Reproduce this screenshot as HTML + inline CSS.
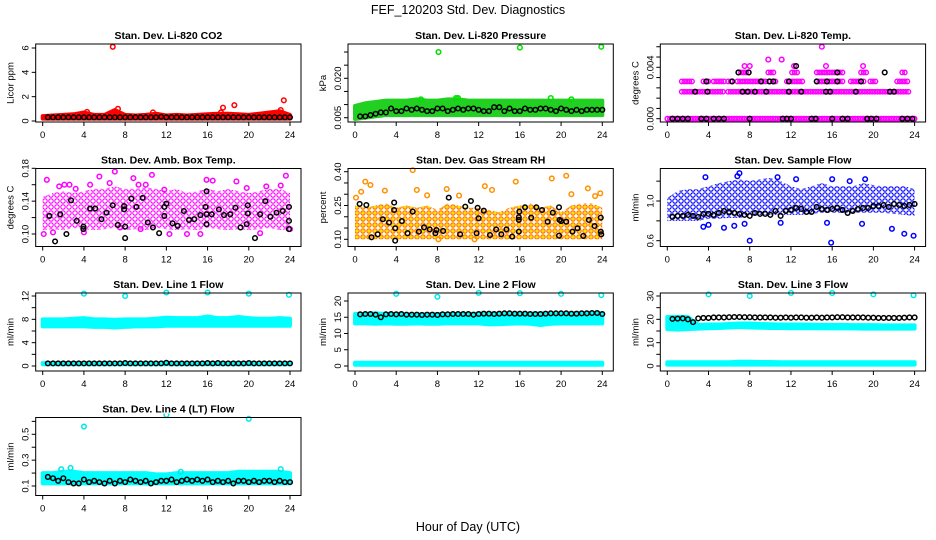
<!DOCTYPE html>
<html><head><meta charset="utf-8">
<style>
html,body{margin:0;padding:0;background:#fff;}
svg{display:block;font-family:"Liberation Sans",sans-serif;}
</style></head>
<body>
<svg id="chart" width="936" height="540" viewBox="0 0 936 540" xmlns="http://www.w3.org/2000/svg">
<defs>
<pattern id="pMag" width="6" height="6" patternUnits="userSpaceOnUse"><circle cx="3" cy="3" r="2.2" fill="none" stroke="#ff00ff" stroke-width="1.1"/></pattern>
<pattern id="pOrg" width="6" height="6" patternUnits="userSpaceOnUse"><circle cx="3" cy="3" r="2.2" fill="#ffe000" stroke="#ff7000" stroke-width="1.1"/></pattern>
<pattern id="pBlue" width="6" height="6" patternUnits="userSpaceOnUse"><circle cx="3" cy="3" r="2.2" fill="none" stroke="#0000ff" stroke-width="1.1"/></pattern>
</defs>
<text x="468" y="14" font-size="12.5" text-anchor="middle">FEF_120203  Std. Dev. Diagnostics</text>
<text x="468" y="531" font-size="12.5" text-anchor="middle">Hour of Day (UTC)</text>
</svg>
<script>
const hours=[0,1,2,3,4,5,6,7,8,9,10,11,12,13,14,15,16,17,18,19,20,21,22,23,24];
const blackHours=[0.5,1,1.5,2,2.5,3,3.5,4,4.5,5,5.5,6,6.5,7,7.5,8,8.5,9,9.5,10,10.5,11,11.5,12,12.5,13,13.5,14,14.5,15,15.5,16,16.5,17,17.5,18,18.5,19,19.5,20,20.5,21,21.5,22,22.5,23,23.5,24];
const xTicks=[0,4,8,12,16,20,24];

// P1 CO2
const co2Lo=[0.2,0.2,0.2,0.2,0.2,0.2,0.2,0.2,0.2,0.2,0.2,0.2,0.2,0.2,0.2,0.2,0.2,0.2,0.2,0.2,0.2,0.2,0.2,0.2,0.2];
const co2Hi=[0.4,0.45,0.5,0.55,0.7,0.5,0.5,0.9,0.5,0.45,0.5,0.6,0.45,0.5,0.45,0.5,0.55,0.6,0.6,0.55,0.5,0.6,0.7,0.8,0.5];
const co2OutX=[6.8,7.3,4.3,10.7,17.5,18.6,23.4,23.1,17.3];
const co2OutY=[6.1,1.0,0.75,0.7,1.1,1.3,1.7,0.9,0.7];
const co2Black=[0.3,0.3,0.3,0.3,0.3,0.3,0.3,0.3,0.3,0.3,0.3,0.3,0.3,0.3,0.3,0.3,0.3,0.3,0.3,0.3,0.3,0.3,0.35,0.3,0.3,0.3,0.3,0.3,0.3,0.3,0.3,0.3,0.3,0.3,0.3,0.3,0.3,0.3,0.3,0.3,0.3,0.3,0.3,0.3,0.3,0.3,0.3,0.3];

// P2 Pressure
const presLo=[0.0045,0.005,0.0055,0.006,0.006,0.006,0.006,0.006,0.006,0.006,0.006,0.006,0.006,0.006,0.006,0.006,0.006,0.006,0.006,0.006,0.006,0.006,0.006,0.006,0.006];
const presHi=[0.0095,0.0105,0.011,0.0115,0.0115,0.0115,0.012,0.0115,0.0115,0.012,0.012,0.0115,0.0115,0.0115,0.0115,0.0115,0.0115,0.0115,0.0115,0.0115,0.0115,0.0115,0.0115,0.0115,0.0115];
const presOutX=[8.1,16,23.9,19,9.8,6.4,21,10];
const presOutY=[0.030,0.0317,0.032,0.0125,0.0125,0.012,0.012,0.0125];
const presBlack=[0.0055,0.0055,0.006,0.0065,0.007,0.007,0.0085,0.0075,0.0075,0.0085,0.008,0.0085,0.008,0.0075,0.0075,0.0085,0.0085,0.0075,0.008,0.0085,0.008,0.0085,0.0085,0.008,0.0075,0.0075,0.009,0.009,0.0075,0.0085,0.0075,0.0075,0.0085,0.008,0.008,0.0085,0.0085,0.008,0.0075,0.0085,0.008,0.0075,0.008,0.0075,0.008,0.008,0.008,0.008];

// P3 Li-820 temp (magenta level segments)
const tempSegStart=[0,1.4,5.9,1.4,3.5,4.5,5.9,6.8,10,11.6,14.5,17.8,19.7,22.3,6.9,9.8,12.1,14.5,18.8,22.8];
const tempSegEnd=[24,5.6,23.5,2.4,4.2,5.6,6.3,9.7,10.6,13.2,17.1,19.1,20.4,23.3,8,10.5,12.6,17.1,19.3,23.1];
const tempSegLevel=[0,0.0021,0.0021,0.0029,0.0029,0.0029,0.0029,0.0029,0.0029,0.0029,0.0029,0.0029,0.0029,0.0029,0.0036,0.0036,0.0036,0.0036,0.0036,0.0036];
const tempOutX=[9.8,11.1,15,12.3,15.4,19,7.5,8];
const tempOutY=[0.0046,0.0046,0.0056,0.0041,0.0041,0.0041,0.0041,0.0041];
const tempBlackX=[0.5,1,1.5,2,3.3,3.8,4.5,5,5.5,8,11.2,11.6,12,14,14.4,16,17,17.5,19.4,19.8,20.3,22.8,23.3,23.8,2.7,3.9,7.3,7.8,8.5,9.6,11.8,13,15.4,15.8,18.3,3.8,6.3,9.1,9.9,10.3,11.8,14.5,15.5,16.5,18.8,6.9,7.9,16.5,21.1,12.5,21.6,22];
const tempBlackY=[0,0,0,0,0,0,0,0,0,0,0,0,0,0,0,0,0,0,0,0,0,0,0,0,0.0021,0.0021,0.0021,0.0021,0.0021,0.0021,0.0021,0.0021,0.0021,0.0021,0.0021,0.0029,0.0029,0.0029,0.0029,0.0029,0.0029,0.0029,0.0029,0.0029,0.0029,0.0036,0.0036,0.0036,0.0036,0.0041,0.0021,0.0021];

// P4 Amb box temp
const ambLo=[0.105,0.106,0.105,0.107,0.106,0.105,0.106,0.107,0.105,0.106,0.105,0.107,0.106,0.105,0.106,0.105,0.107,0.106,0.105,0.106,0.105,0.106,0.107,0.105,0.106];
const ambHi=[0.145,0.15,0.152,0.15,0.152,0.155,0.155,0.158,0.155,0.155,0.157,0.155,0.152,0.155,0.15,0.152,0.155,0.152,0.155,0.152,0.15,0.152,0.155,0.155,0.15];
const ambOutX=[0.4,1.6,2.1,2.6,3.2,4.6,5.5,6.5,7.0,8.8,9.3,10.0,10.6,11.8,15.9,16.5,18.8,19.8,21.7,23.1,23.6,0.1,1.0,4.0,7.5,9.5,12.3,14.0,15.3,21.1,24];
const ambOutY=[0.166,0.158,0.16,0.16,0.155,0.16,0.17,0.162,0.176,0.168,0.16,0.16,0.172,0.154,0.166,0.165,0.164,0.156,0.158,0.159,0.171,0.1,0.102,0.102,0.108,0.106,0.1,0.1,0.1,0.101,0.106];
const ambBlackX=[0.65,1.2,1.7,2.3,2.75,3.3,3.95,3.95,4.6,5.1,5.7,6.2,6.8,7.3,7.9,7.9,8.0,8.0,8.6,9.1,9.7,10.2,10.7,11.3,11.8,12,11.8,12.6,13.1,13.7,14.2,14.7,15.3,15.8,15.9,15.9,15.9,16.4,17.1,17.6,18.2,18.7,19.2,19.8,19.9,19.9,20.6,21.1,22.1,22.7,23.3,23.9,23.9,23.9,21.6];
const ambBlackY=[0.122,0.091,0.124,0.1,0.141,0.116,0.109,0.106,0.131,0.131,0.118,0.126,0.135,0.111,0.134,0.13,0.109,0.095,0.143,0.133,0.144,0.114,0.108,0.101,0.133,0.137,0.122,0.113,0.11,0.128,0.117,0.118,0.123,0.133,0.152,0.112,0.124,0.124,0.13,0.123,0.124,0.132,0.108,0.112,0.125,0.135,0.095,0.124,0.121,0.126,0.128,0.133,0.116,0.106,0.14];

// P5 Gas stream RH
const rhLo=[0.1,0.1,0.1,0.1,0.1,0.1,0.1,0.1,0.1,0.1,0.1,0.1,0.1,0.1,0.1,0.1,0.1,0.1,0.1,0.1,0.1,0.1,0.1,0.1,0.1];
const rhHi=[0.25,0.24,0.25,0.26,0.24,0.25,0.24,0.25,0.23,0.26,0.25,0.24,0.24,0.23,0.22,0.24,0.25,0.26,0.24,0.25,0.22,0.25,0.26,0.26,0.24];
const rhOutX=[0.1,0.6,1.0,1.5,2.9,5.6,6.0,7.0,8.9,10.1,12.6,13.3,15.6,19.1,20.5,21.0,22.6,23.3,23.8,8.1,11.6];
const rhOutY=[0.285,0.311,0.356,0.341,0.316,0.407,0.319,0.295,0.323,0.294,0.336,0.319,0.356,0.37,0.382,0.3,0.326,0.292,0.304,0.1,0.1];
const rhBlackX=[0.45,1.1,1.6,2.2,2.7,3.3,3.8,3.8,3.9,3.9,4.55,5.1,5.6,6.2,6.7,7.25,7.8,7.9,8.55,9.1,10.2,10.7,11.25,11.8,11.9,12.0,12.5,13.1,13.7,14.2,14.7,15.25,15.9,15.9,15.9,15.95,16.5,17.1,17.6,18.15,18.7,19.2,19.8,19.8,19.85,20,20.5,21.1,21.6,22.15,22.7,23.25,23.85,23.85,23.9];
const rhBlackY=[0.257,0.252,0.109,0.122,0.189,0.174,0.263,0.23,0.094,0.149,0.181,0.127,0.223,0.134,0.153,0.144,0.127,0.141,0.137,0.285,0.122,0.245,0.27,0.127,0.24,0.193,0.227,0.119,0.144,0.122,0.144,0.112,0.134,0.198,0.186,0.223,0.242,0.196,0.242,0.23,0.178,0.218,0.116,0.242,0.186,0.181,0.178,0.134,0.149,0.115,0.186,0.159,0.196,0.134,0.122];

// P6 Sample flow
const sfLo=[0.8,0.8,0.8,0.8,0.82,0.82,0.83,0.83,0.85,0.86,0.86,0.86,0.86,0.86,0.87,0.88,0.88,0.88,0.88,0.88,0.88,0.88,0.87,0.86,0.85];
const sfHi=[1.03,1.1,1.12,1.12,1.15,1.18,1.2,1.22,1.2,1.22,1.23,1.2,1.15,1.12,1.15,1.18,1.15,1.15,1.15,1.18,1.16,1.15,1.15,1.15,1.12];
const sfOutX=[3.5,4,5.5,6.5,7.5,8,11,15.5,15.9,18.9,21.8,23,23.9,7,6.8,10.7,12.5,17.7,19.2,16,3.7];
const sfOutY=[0.74,0.76,0.73,0.75,0.77,0.6,0.78,0.78,0.58,0.77,0.72,0.67,0.65,1.28,1.25,1.24,1.22,1.2,1.22,1.22,1.24];
const sfBlack=[0.84,0.85,0.85,0.86,0.85,0.84,0.87,0.87,0.86,0.88,0.9,0.89,0.88,0.87,0.86,0.85,0.88,0.87,0.87,0.86,0.9,0.85,0.9,0.91,0.93,0.92,0.89,0.89,0.94,0.92,0.91,0.92,0.93,0.91,0.88,0.9,0.92,0.93,0.93,0.95,0.95,0.96,0.94,0.97,0.96,0.95,0.96,0.97];

// P7 Line 1
const l1Lo=[6.8,6.8,6.8,6.8,6.8,6.7,6.7,6.6,6.7,6.8,6.8,6.8,6.9,6.9,6.9,6.9,6.9,6.9,6.9,6.9,6.9,6.9,6.9,6.9,6.9];
const l1Hi=[8.0,8.0,8.0,8.1,8.2,8.0,8.0,7.9,8.0,8.0,8.0,8.1,8.3,8.2,8.2,8.2,8.5,8.2,8.2,8.4,8.2,8.1,8.1,8.2,8.1];
const l1ZeroLo=[0.3,0.3,0.3,0.3,0.3,0.3,0.3,0.3,0.3,0.3,0.3,0.3,0.3,0.3,0.3,0.3,0.3,0.3,0.3,0.3,0.3,0.3,0.3,0.3,0.3];
const l1ZeroHi=[0.5,0.5,0.5,0.5,0.5,0.5,0.5,0.5,0.5,0.5,0.5,0.5,0.5,0.5,0.5,0.5,0.5,0.5,0.5,0.5,0.5,0.5,0.5,0.5,0.5];
const l1OutX=[4,8,12,16,20,23.9];
const l1OutY=[12.4,12.0,12.6,12.6,12.4,12.2];
const l1Black=[0.45,0.45,0.45,0.45,0.45,0.45,0.45,0.45,0.45,0.45,0.45,0.45,0.45,0.45,0.45,0.5,0.45,0.45,0.45,0.45,0.45,0.45,0.45,0.55,0.45,0.45,0.45,0.45,0.45,0.45,0.45,0.5,0.45,0.5,0.45,0.45,0.45,0.45,0.45,0.5,0.45,0.45,0.45,0.45,0.45,0.45,0.45,0.45];

// P8 Line 2
const l2Lo=[13.1,13.1,13.0,13.1,13.0,13.0,13.1,13.0,13.0,13.1,13.1,13.1,13.1,12.8,12.9,13.0,13.1,13.0,12.6,13.0,13.1,13.1,13.1,13.1,13.1];
const l2Hi=[16.0,16.0,16.2,16.0,16.0,15.9,15.9,15.9,16.0,16.0,16.0,16.0,16.1,16.1,16.1,16.1,16.1,16.1,16.2,16.2,16.2,16.2,16.3,16.3,16.2];
const l2ZeroLo=[0.4,0.4,0.4,0.4,0.4,0.4,0.4,0.4,0.4,0.4,0.4,0.4,0.4,0.4,0.4,0.4,0.4,0.4,0.4,0.4,0.4,0.4,0.4,0.4,0.4];
const l2ZeroHi=[1.0,1.0,1.0,1.0,1.0,1.0,1.0,1.0,1.0,1.0,1.0,1.0,1.0,1.0,1.0,1.0,1.0,1.0,1.0,1.0,1.0,1.0,1.0,1.0,1.0];
const l2OutX=[4,8,12,16,20,23.9];
const l2OutY=[22.2,21.3,22.5,22.4,22.2,21.8];
const l2Black=[15.9,16.0,16.0,15.8,15.0,15.9,16.0,15.9,16.0,15.8,15.8,15.8,15.7,15.8,15.8,15.7,15.9,15.9,16.0,16.0,16.0,16.0,15.8,16.0,16.1,16.1,16.0,16.1,16.2,16.2,16.1,16.1,16.1,16.0,16.0,16.0,16.1,16.2,16.2,16.2,16.2,16.1,16.1,16.2,16.2,16.3,16.3,16.0];

// P9 Line 3
const l3Lo=[15.8,15.6,15.8,16.0,16.2,16.3,16.5,16.7,16.5,16.4,16.3,16.3,16.2,16.2,16.2,16.2,16.1,16.1,16.1,16.0,16.0,16.0,16.0,16.0,16.0];
const l3Hi=[21.0,21.0,21.0,17.6,17.8,17.8,18.0,18.2,18.2,18.0,17.9,17.8,17.8,17.8,17.7,17.6,17.6,17.6,17.5,17.5,17.5,17.4,17.4,17.4,17.4];
const l3ZeroLo=[0.6,0.6,0.6,0.6,0.6,0.6,0.6,0.6,0.6,0.6,0.6,0.6,0.6,0.6,0.6,0.6,0.6,0.6,0.6,0.6,0.6,0.6,0.6,0.6,0.6];
const l3ZeroHi=[1.6,1.6,1.6,1.6,1.6,1.6,1.6,1.8,1.8,1.7,1.7,1.6,1.6,1.6,1.6,1.6,1.6,1.6,1.6,1.6,1.6,1.6,1.6,1.6,1.6];
const l3OutX=[4,8,12,16,20,23.9];
const l3OutY=[30.7,30.0,31.3,31.3,30.7,30.3];
const l3Black=[20.2,20.3,20.4,20.0,18.8,20.4,20.6,20.6,20.8,20.8,20.8,20.9,21.0,21.0,20.9,20.9,20.8,20.8,20.8,20.8,20.7,20.7,20.8,20.7,20.8,20.8,20.7,20.7,20.8,20.7,20.8,20.8,20.9,20.9,20.8,20.8,20.8,20.8,20.7,20.7,20.6,20.6,20.6,20.6,20.6,20.7,20.8,20.8];

// P10 Line 4
const l4Lo=[0.12,0.12,0.12,0.12,0.12,0.12,0.12,0.12,0.12,0.12,0.12,0.12,0.12,0.12,0.12,0.12,0.12,0.12,0.12,0.12,0.12,0.12,0.12,0.12,0.12];
const l4Hi=[0.2,0.2,0.21,0.21,0.2,0.2,0.2,0.2,0.2,0.2,0.2,0.19,0.19,0.2,0.2,0.2,0.2,0.2,0.2,0.21,0.21,0.21,0.21,0.21,0.2];
const l4OutX=[4,12,20,1.8,2.7,13.4,23.1];
const l4OutY=[0.56,0.65,0.62,0.23,0.24,0.21,0.23];
const l4Black=[0.17,0.16,0.14,0.16,0.13,0.12,0.12,0.15,0.13,0.14,0.13,0.12,0.14,0.12,0.14,0.13,0.15,0.14,0.13,0.14,0.12,0.13,0.14,0.14,0.15,0.13,0.14,0.15,0.14,0.15,0.14,0.15,0.13,0.14,0.13,0.14,0.12,0.14,0.14,0.13,0.14,0.13,0.14,0.14,0.13,0.14,0.13,0.13];

const NS='http://www.w3.org/2000/svg';
const svg=document.getElementById('chart');
function mk(tag,attrs,parent){const e=document.createElementNS(NS,tag);for(const k in attrs)e.setAttribute(k,attrs[k]);(parent||svg).appendChild(e);return e;}

function panel(cfg){
  const x0=42.7+312.3*cfg.col, xs=(290-42.7)/24;
  const X=h=>x0+h*xs;
  const Y=v=>cfg.py1+(v-cfg.v1)*(cfg.py2-cfg.py1)/(cfg.v2-cfg.v1);
  const top=44+124.5*cfg.row, bot=122+124.5*cfg.row;
  const left=x0-7, right=X(24)+11;
  const g=mk('g',{});
  
  
  const clipId='c'+cfg.name;
  const cp=mk('clipPath',{id:clipId},g);mk('rect',{x:left,y:top-4,width:right-left,height:bot-top+4},cp);
  const plot=mk('g',{'clip-path':'url(#'+clipId+')'},g);
  (cfg.bands||[]).forEach(b=>{
    let pts=hours.map((h,i)=>X(h)+','+Y(b.hi[i]));
    pts=pts.concat(hours.map((h,i)=>X(h)+','+Y(b.lo[i])).reverse());
    const p=mk('polygon',{points:pts.join(' '),fill:b.fill,stroke:b.stroke,'stroke-width':b.sw||4,'stroke-linejoin':'round'},plot);
    
    
  });
  if(cfg.segs){cfg.segs.start.forEach((s,i)=>{
    for(let h=s;h<=cfg.segs.end[i]+1e-9;h+=0.25){
      const c=mk('circle',{cx:X(h),cy:Y(cfg.segs.level[i]),r:2.2,fill:'none',stroke:cfg.segs.color,'stroke-width':1.4},plot);
      
      
    }});}
  (cfg.points||[]).forEach(s=>{
    s.x.forEach((h,i)=>{
      const c=mk('circle',{cx:X(h),cy:Y(s.y[i]),r:2.3,fill:'none',stroke:s.color,'stroke-width':1.5},plot);
      
      
    });
  });
  const box=mk('rect',{x:left,y:top,width:right-left,height:bot-top,fill:'none',stroke:'#000','stroke-width':1},g);
  
  
  xTicks.forEach(t=>{
    mk('line',{x1:X(t),x2:X(t),y1:bot,y2:bot+4,stroke:'#000'},g);
    const tx=mk('text',{x:X(t),y:bot+16,'font-size':9.5,'text-anchor':'middle'},g);
    tx.textContent=t;
    
    
  });
  cfg.yTicks.forEach((t,i)=>{
    const yy=Y(t);
    mk('line',{x1:left,x2:left-4,y1:yy,y2:yy,stroke:'#000'},g);
    if(cfg.yLabels[i]!==''){
      const tx=mk('text',{x:left-7,y:yy,'font-size':9.5,'text-anchor':'middle',transform:'rotate(-90 '+(left-7)+' '+yy+')'},g);
      tx.textContent=cfg.yLabels[i];
      
      
    }
  });
  const cy=(top+bot)/2;
  const yt=mk('text',{x:left-22,y:cy,'font-size':9.5,'text-anchor':'middle',transform:'rotate(-90 '+(left-22)+' '+cy+')'},g);
  yt.textContent=cfg.ylab;
  
  
  const tt=mk('text',{x:(left+right)/2,y:top-5,'font-size':10.5,'font-weight':'bold','text-anchor':'middle'},g);
  tt.textContent=cfg.title;
  
  
}

panel({name:'co2-panel',row:0,col:0,title:'Stan. Dev. Li-820 CO2',ylab:'Licor ppm',v1:0,py1:121,v2:6,py2:48,
  yTicks:[0,2,4,6],yLabels:['0','2','4','6'],
  bands:[{name:'co2-band',lo:co2Lo,hi:co2Hi,fill:'#ff0000',stroke:'#ff0000'}],
  points:[{name:'co2-outlier',x:co2OutX,y:co2OutY,color:'#ff0000'},{name:'co2-black-point',x:blackHours,y:co2Black,color:'#000'}]});
panel({name:'pressure-panel',row:0,col:1,title:'Stan. Dev. Li-820 Pressure',ylab:'kPa',v1:0.005,py1:117.7,v2:0.020,py2:78.3,
  yTicks:[0.005,0.010,0.015,0.020,0.025,0.030],yLabels:['0.005','','','0.020','',''],
  bands:[{name:'pressure-band',lo:presLo,hi:presHi,fill:'#22d022',stroke:'#22d022'}],
  points:[{name:'pressure-outlier',x:presOutX,y:presOutY,color:'#00e000'},{name:'pressure-black-point',x:blackHours,y:presBlack,color:'#000'}]});
panel({name:'li820-temp-panel',row:0,col:2,title:'Stan. Dev. Li-820 Temp.',ylab:'degrees C',v1:0,py1:118.7,v2:0.004,py2:67.3,
  yTicks:[0,0.0008,0.0016,0.0024,0.0032,0.004,0.0048,0.0056],yLabels:['0.000','','','','','0.004','',''],
  segs:{start:tempSegStart,end:tempSegEnd,level:tempSegLevel,color:'#ff00ff'},
  points:[{name:'temp-outlier',x:tempOutX,y:tempOutY,color:'#ff00ff'},{name:'temp-black-point',x:tempBlackX,y:tempBlackY,color:'#000'}]});
panel({name:'amb-box-temp-panel',row:1,col:0,title:'Stan. Dev. Amb. Box Temp.',ylab:'degrees C',v1:0.10,py1:234,v2:0.18,py2:168.3,
  yTicks:[0.10,0.12,0.14,0.16,0.18],yLabels:['0.10','','0.14','','0.18'],
  bands:[{name:'amb-band',lo:ambLo,hi:ambHi,fill:'url(#pMag)',stroke:'none',sw:0}],
  points:[{name:'amb-outlier',x:ambOutX,y:ambOutY,color:'#ff00ff'},{name:'amb-black-point',x:ambBlackX,y:ambBlackY,color:'#000'}]});
panel({name:'rh-panel',row:1,col:1,title:'Stan. Dev. Gas Stream RH',ylab:'percent',v1:0.10,py1:239.3,v2:0.40,py2:171.7,
  yTicks:[0.10,0.15,0.20,0.25,0.30,0.35,0.40],yLabels:['0.10','','','0.25','','','0.40'],
  bands:[{name:'rh-band',lo:rhLo,hi:rhHi,fill:'url(#pOrg)',stroke:'none',sw:0}],
  points:[{name:'rh-outlier',x:rhOutX,y:rhOutY,color:'#ff9000'},{name:'rh-black-point',x:rhBlackX,y:rhBlackY,color:'#000'}]});
panel({name:'sample-flow-panel',row:1,col:2,title:'Stan. Dev. Sample Flow',ylab:'ml/min',v1:0.6,py1:240.7,v2:1.0,py2:201,
  yTicks:[0.6,0.8,1.0,1.2],yLabels:['0.6','','1.0',''],
  bands:[{name:'sample-flow-band',lo:sfLo,hi:sfHi,fill:'url(#pBlue)',stroke:'none',sw:0}],
  points:[{name:'sample-flow-outlier',x:sfOutX,y:sfOutY,color:'#0000ff'},{name:'sample-flow-black-point',x:blackHours,y:sfBlack,color:'#000'}]});
panel({name:'line1-panel',row:2,col:0,title:'Stan. Dev. Line 1 Flow',ylab:'ml/min',v1:0,py1:366,v2:12,py2:296,
  yTicks:[0,2,4,6,8,10,12],yLabels:['0','','4','','8','','12'],
  bands:[{name:'line1-band',lo:l1Lo,hi:l1Hi,fill:'#00ffff',stroke:'#00ffff'},{name:'line1-zero-band',lo:l1ZeroLo,hi:l1ZeroHi,fill:'#00ffff',stroke:'#00ffff'}],
  points:[{name:'line1-outlier',x:l1OutX,y:l1OutY,color:'#00e8e8'},{name:'line1-black-point',x:blackHours,y:l1Black,color:'#000'}]});
panel({name:'line2-panel',row:2,col:1,title:'Stan. Dev. Line 2 Flow',ylab:'ml/min',v1:0,py1:366,v2:20,py2:301,
  yTicks:[0,5,10,15,20],yLabels:['0','5','10','15','20'],
  bands:[{name:'line2-band',lo:l2Lo,hi:l2Hi,fill:'#00ffff',stroke:'#00ffff'},{name:'line2-zero-band',lo:l2ZeroLo,hi:l2ZeroHi,fill:'#00ffff',stroke:'#00ffff'}],
  points:[{name:'line2-outlier',x:l2OutX,y:l2OutY,color:'#00e8e8'},{name:'line2-black-point',x:blackHours,y:l2Black,color:'#000'}]});
panel({name:'line3-panel',row:2,col:2,title:'Stan. Dev. Line 3 Flow',ylab:'ml/min',v1:0,py1:366,v2:30,py2:296,
  yTicks:[0,5,10,15,20,25,30],yLabels:['0','','10','','20','','30'],
  bands:[{name:'line3-band',lo:l3Lo,hi:l3Hi,fill:'#00ffff',stroke:'#00ffff'},{name:'line3-zero-band',lo:l3ZeroLo,hi:l3ZeroHi,fill:'#00ffff',stroke:'#00ffff'}],
  points:[{name:'line3-outlier',x:l3OutX,y:l3OutY,color:'#00e8e8'},{name:'line3-black-point',x:blackHours,y:l3Black,color:'#000'}]});
panel({name:'line4-panel',row:3,col:0,title:'Stan. Dev. Line 4 (LT) Flow',ylab:'ml/min',v1:0.1,py1:486,v2:0.5,py2:434.3,
  yTicks:[0.1,0.2,0.3,0.4,0.5,0.6],yLabels:['0.1','','0.3','','0.5',''],
  bands:[{name:'line4-band',lo:l4Lo,hi:l4Hi,fill:'#00ffff',stroke:'#00ffff'}],
  points:[{name:'line4-outlier',x:l4OutX,y:l4OutY,color:'#00e8e8'},{name:'line4-black-point',x:blackHours,y:l4Black,color:'#000'}]});
</script>
</body></html>
